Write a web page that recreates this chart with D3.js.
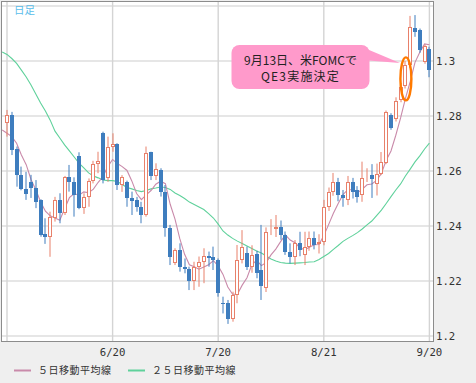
<!DOCTYPE html>
<html>
<head>
<meta charset="UTF-8">
<script src="https://d3js.org/d3.v7.min.js"></script>
<style>
  body { margin: 0; background: #efefef; }
  svg { display: block; }
  .ylab, .xlab { font-family: "DejaVu Sans Mono", monospace; font-size: 10.7px; fill: #333; }
  .jp { font-family: "Noto Sans CJK JP", sans-serif; }
</style>
</head>
<body>
<svg id="chart" width="476" height="383"></svg>
<script>
// daily candles, 5/21 .. 9/20 (weekdays)
const dates = [
  "5/21","5/22","5/23","5/24","5/25","5/28","5/29","5/30","5/31",
  "6/1","6/4","6/5","6/6","6/7","6/8","6/11","6/12","6/13","6/14","6/15","6/18","6/19","6/20","6/21","6/22","6/25","6/26","6/27","6/28","6/29",
  "7/2","7/3","7/4","7/5","7/6","7/9","7/10","7/11","7/12","7/13","7/16","7/17","7/18","7/19","7/20","7/23","7/24","7/25","7/26","7/27","7/30","7/31",
  "8/1","8/2","8/3","8/6","8/7","8/8","8/9","8/10","8/13","8/14","8/15","8/16","8/17","8/20","8/21","8/22","8/23","8/24","8/27","8/28","8/29","8/30","8/31",
  "9/3","9/4","9/5","9/6","9/7","9/10","9/11","9/12","9/13","9/14","9/17","9/18","9/19","9/20"
];
const open = [
  1.2773,1.2804,1.2679,1.2585,1.2535,1.2560,1.2537,1.2495,1.2370,
  1.2361,1.2428,1.2495,1.2446,1.2577,1.2561,1.2655,1.2464,1.2504,1.2565,1.2625,1.2739,1.2573,1.2686,1.2697,1.2549,1.2560,1.2501,1.2495,1.2470,1.2440,
  1.2668,1.2582,1.2604,1.2525,1.2392,1.2264,1.2313,1.2252,1.2242,1.2200,1.2252,1.2270,1.2291,1.2286,1.2276,1.2121,1.2121,1.2062,1.2149,1.2276,1.2301,1.2252,
  1.2300,1.2240,1.2175,1.2385,1.2390,1.2397,1.2367,1.2306,1.2288,1.2337,1.2295,1.2322,1.2355,1.2335,1.2342,1.2470,1.2525,1.2561,1.2513,1.2495,1.2561,1.2530,1.2513,
  1.2580,1.2586,1.2553,1.2590,1.2628,1.2804,1.2790,1.2858,1.2910,1.2985,1.3119,1.3113,1.2995,1.3042
];
const high = [
  1.2822,1.2815,1.2689,1.2616,1.2597,1.2586,1.2567,1.2497,1.2428,
  1.2452,1.2506,1.2519,1.2582,1.2622,1.2577,1.2668,1.2519,1.2573,1.2637,1.2670,1.2743,1.2725,1.2737,1.2701,1.2585,1.2565,1.2525,1.2506,1.2488,1.2689,
  1.2670,1.2628,1.2610,1.2549,1.2404,1.2319,1.2337,1.2282,1.2252,1.2270,1.2289,1.2319,1.2307,1.2325,1.2282,1.2143,1.2131,1.2161,1.2331,1.2385,1.2325,1.2330,
  1.2310,1.2404,1.2395,1.2425,1.2440,1.2420,1.2380,1.2337,1.2349,1.2379,1.2379,1.2380,1.2380,1.2370,1.2495,1.2540,1.2593,1.2575,1.2531,1.2582,1.2575,1.2545,1.2634,
  1.2610,1.2625,1.2627,1.2669,1.2820,1.2810,1.2868,1.2920,1.3000,1.3164,1.3167,1.3118,1.3060,1.3052
];
const low = [
  1.2725,1.2658,1.2543,1.2530,1.2495,1.2502,1.2465,1.2361,1.2335,
  1.2288,1.2416,1.2410,1.2440,1.2525,1.2434,1.2461,1.2444,1.2470,1.2555,1.2592,1.2555,1.2561,1.2670,1.2531,1.2524,1.2470,1.2440,1.2452,1.2410,1.2434,
  1.2567,1.2567,1.2507,1.2361,1.2258,1.2258,1.2234,1.2228,1.2167,1.2167,1.2179,1.2192,1.2252,1.2240,1.2143,1.2082,1.2044,1.2052,1.2119,1.2264,1.2240,1.2230,
  1.2210,1.2131,1.2160,1.2367,1.2360,1.2350,1.2295,1.2264,1.2258,1.2290,1.2258,1.2310,1.2315,1.2300,1.2330,1.2455,1.2510,1.2490,1.2470,1.2476,1.2500,1.2485,1.2488,
  1.2560,1.2502,1.2511,1.2585,1.2625,1.2750,1.2780,1.2850,1.2900,1.2975,1.3088,1.3030,1.2990,1.2941
];
const close = [
  1.2804,1.2676,1.2585,1.2533,1.2516,1.2537,1.2488,1.2367,1.2361,
  1.2434,1.2495,1.2446,1.2577,1.2561,1.2513,1.2464,1.2504,1.2565,1.2625,1.2637,1.2567,1.2686,1.2697,1.2549,1.2579,1.2501,1.2492,1.2468,1.2440,1.2664,
  1.2582,1.2606,1.2525,1.2392,1.2288,1.2313,1.2252,1.2242,1.2200,1.2252,1.2270,1.2291,1.2283,1.2276,1.2155,1.2116,1.2062,1.2149,1.2276,1.2322,1.2252,1.2295,
  1.2230,1.2180,1.2380,1.2390,1.2398,1.2367,1.2306,1.2286,1.2337,1.2313,1.2325,1.2355,1.2331,1.2343,1.2470,1.2525,1.2561,1.2513,1.2501,1.2561,1.2525,1.2507,1.2573,
  1.2586,1.2572,1.2590,1.2634,1.2815,1.2755,1.2855,1.2905,1.2985,1.3125,1.3107,1.3040,1.3055,1.2967
];

// moving averages; first value is 5/18 (left edge, before first candle)
const ma5 = [
  1.2749,1.2737,1.2725,1.2701,1.2658,1.2623,1.2569,1.2532,1.2488,1.2454,
  1.2437,1.2429,1.2421,1.2463,1.2503,1.2518,1.2512,1.2524,1.2521,1.2534,1.2559,1.2580,1.2616,1.2642,1.2627,1.2616,1.2602,1.2564,1.2518,1.2496,1.2513,
  1.2529,1.2552,1.2563,1.2554,1.2479,1.2425,1.2354,1.2297,1.2259,1.2252,1.2243,1.2251,1.2259,1.2274,1.2255,1.2224,1.2178,1.2152,1.2152,1.2185,1.2212,1.2259,
  1.2275,1.2256,1.2267,1.2295,1.2316,1.2343,1.2368,1.2349,1.2339,1.2322,1.2313,1.2323,1.2332,1.2333,1.2365,1.2405,1.2446,1.2482,1.2514,1.2532,1.2532,1.2521,1.2533,
  1.2550,1.2553,1.2566,1.2591,1.2639,1.2673,1.2730,1.2793,1.2863,1.2925,1.2995,1.3032,1.3062,1.3059
];
const ma25 = [
  1.3033,1.3024,1.3009,1.2991,1.2967,1.2942,1.2913,1.2880,1.2847,1.2818,
  1.2785,1.2745,1.2720,1.2695,1.2673,1.2651,1.2629,1.2611,1.2593,1.2582,1.2575,1.2567,1.2565,1.2565,1.2562,1.2551,1.2540,1.2535,1.2529,1.2525,1.2529,
  1.2535,1.2538,1.2542,1.2540,1.2533,1.2520,1.2511,1.2500,1.2487,1.2478,1.2469,1.2460,1.2445,1.2429,1.2407,1.2382,1.2367,1.2355,1.2345,1.2336,1.2327,1.2318,
  1.2309,1.2302,1.2291,1.2280,1.2273,1.2267,1.2265,1.2264,1.2265,1.2266,1.2267,1.2269,1.2270,1.2278,1.2289,1.2300,1.2315,1.2329,1.2344,1.2355,1.2365,1.2376,1.2389,
  1.2404,1.2418,1.2438,1.2458,1.2482,1.2507,1.2531,1.2553,1.2582,1.2607,1.2633,1.2655,1.2680,1.2701
];

const yTicks = [1.2, 1.22, 1.24, 1.26, 1.28, 1.3, 1.32];
const yLabels = [1.2, 1.22, 1.24, 1.26, 1.28, 1.3];
const xGrid = ["5/21", "6/20", "7/20", "8/21", "9/20"];
const xLabels = ["6/20", "7/20", "8/21", "9/20"];
const legendNames = ["５日移動平均線", "２５日移動平均線"];
const noteLines = ["9月13日、米FOMCで", "QE3実施決定"];
const noteDate = "9/13";
const noteValue = 1.2935;

const svg = d3.select("#chart");
const W = +svg.attr("width"), H = +svg.attr("height");
const plot = {left: 1, top: 1, right: 433, bottom: 341};

svg.append("rect").attr("width", W).attr("height", H).attr("fill", "#efefef");
svg.append("rect")
    .attr("x", plot.left + 0.5).attr("y", plot.top + 0.5)
    .attr("width", plot.right - plot.left).attr("height", plot.bottom - plot.top)
    .attr("fill", "#fff").attr("stroke", "#8c8c8c");

const x = d3.scaleLinear().domain([0, dates.length - 1]).range([7, 429.4]);
const y = d3.scaleLinear().domain([1.2, 1.32]).range([336, 6]);

svg.append("defs").append("clipPath").attr("id", "clip")
  .append("rect").attr("x", plot.left + 1).attr("y", plot.top + 1)
  .attr("width", plot.right - plot.left - 1).attr("height", plot.bottom - plot.top - 1);

const g = svg.append("g").attr("clip-path", "url(#clip)");

// grid
g.selectAll(".hg").data(yTicks).enter().append("line")
    .attr("x1", plot.left).attr("x2", plot.right)
    .attr("y1", d => y(d)).attr("y2", d => y(d))
    .attr("stroke", "#dedede").attr("stroke-width", 1.6);
g.selectAll(".vg").data(xGrid).enter().append("line")
    .attr("x1", d => x(dates.indexOf(d))).attr("x2", d => x(dates.indexOf(d)))
    .attr("y1", plot.top).attr("y2", plot.bottom)
    .attr("stroke", "#d4d4d4").attr("stroke-width", 1.4);

// moving averages (index -1 = 5/18)
const line = d3.line().x((d, i) => x(i - 1)).y(d => y(d));
g.append("path").datum(ma25).attr("d", line)
    .attr("fill", "none").attr("stroke", "#5fd19b").attr("stroke-width", 1.1);
g.append("path").datum(ma5).attr("d", line)
    .attr("fill", "none").attr("stroke", "#c98aaa").attr("stroke-width", 1.1);

// candles
const candles = dates.map((d, i) => ({i, o: open[i], h: high[i], l: low[i], c: close[i]}));
const cg = g.selectAll(".candle").data(candles).enter().append("g");
cg.append("line")
    .attr("x1", d => Math.round(x(d.i))).attr("x2", d => Math.round(x(d.i)))
    .attr("y1", d => y(d.h)).attr("y2", d => y(d.l))
    .attr("stroke", d => d.c >= d.o ? "#e8806a" : "#3e7dbe").attr("stroke-width", 1);
cg.filter(d => d.c < d.o).append("rect")
    .attr("x", d => Math.round(x(d.i)) - 2)
    .attr("y", d => Math.round(y(d.o)))
    .attr("width", 4)
    .attr("height", d => Math.max(1, Math.round(y(d.c)) - Math.round(y(d.o))))
    .attr("fill", "#3e7dbe");
cg.filter(d => d.c >= d.o).append("rect")
    .attr("x", d => Math.round(x(d.i)) - 1.5)
    .attr("y", d => Math.round(y(d.c)) + 0.5)
    .attr("width", 3)
    .attr("height", d => Math.max(0, Math.round(y(d.o)) - Math.round(y(d.c)) - 1))
    .attr("fill", "#fff").attr("stroke", "#e8806a").attr("stroke-width", 1);

// callout
const ni = dates.indexOf(noteDate);
const note = svg.append("g");
note.append("rect").attr("x", 231.5).attr("y", 45).attr("width", 138).attr("height", 44)
    .attr("rx", 8).attr("fill", "#ff9acb");
note.append("path").attr("d", "M362,47 L400,63 L362,60 Z").attr("fill", "#ff9acb");
note.selectAll("text").data(noteLines).enter().append("text")
    .attr("class", "jp")
    .attr("x", 300.5).attr("y", (d, i) => 64.5 + i * 16.5)
    .attr("text-anchor", "middle").attr("font-size", 12).attr("fill", "#222")
    .attr("letter-spacing", (d, i) => i === 1 ? 1.2 : 0)
    .text(d => d);
note.append("ellipse")
    .attr("cx", x(ni) + 0.5).attr("cy", y(noteValue))
    .attr("rx", 5.5).attr("ry", 21.5)
    .attr("fill", "none").attr("stroke", "#ff7a00").attr("stroke-width", 2.4);

// 日足 label
svg.append("text").attr("class", "jp").attr("x", 14).attr("y", 14)
    .attr("font-size", 10.5).attr("fill", "#59bdea").text("日足");

// axes labels
svg.selectAll(".ylab").data(yLabels).enter().append("text")
    .attr("class", "ylab").attr("x", 436).attr("y", d => y(d)).attr("dy", "0.35em")
    .text(d => d3.format("")(+d.toFixed(2)));
svg.selectAll(".xlab").data(xLabels).enter().append("text")
    .attr("class", "xlab").attr("x", d => x(dates.indexOf(d)))
    .attr("y", 356).attr("text-anchor", "middle").text(d => d);

// legend
const legColors = ["#c98aaa", "#5fd19b"];
const legX = [14, 128];
const leg = svg.selectAll(".leg").data(legendNames).enter().append("g")
    .attr("transform", (d, i) => `translate(${legX[i]},370)`);
leg.append("line").attr("x1", 0).attr("x2", 17).attr("y1", 0.5).attr("y2", 0.5)
    .attr("stroke", (d, i) => legColors[i]).attr("stroke-width", 2);
leg.append("text").attr("class", "jp").attr("x", 24).attr("y", 4)
    .attr("font-size", 10).attr("letter-spacing", 0.5).attr("fill", "#333")
    .text(d => d);
</script>
</body>
</html>
